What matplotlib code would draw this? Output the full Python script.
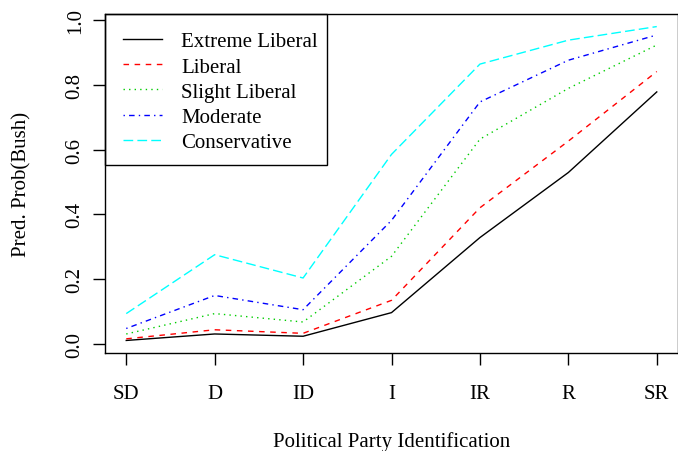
import numpy as np
import matplotlib
matplotlib.use('Agg')
import matplotlib.pyplot as plt
from matplotlib.patches import Rectangle

# predicted probability of a Bush vote by party id, one curve per ideology group
party = ['SD', 'D', 'ID', 'I', 'IR', 'R', 'SR']
extreme_liberal = [0.010, 0.030, 0.023, 0.096, 0.328, 0.529, 0.778]
liberal = [0.015, 0.043, 0.032, 0.134, 0.420, 0.626, 0.841]
slight_liberal = [0.030, 0.093, 0.067, 0.270, 0.632, 0.789, 0.923]
moderate = [0.047, 0.149, 0.105, 0.381, 0.747, 0.876, 0.954]
conservative = [0.093, 0.275, 0.203, 0.585, 0.864, 0.938, 0.980]

groups = ['Extreme Liberal', 'Liberal', 'Slight Liberal', 'Moderate', 'Conservative']
series = [extreme_liberal, liberal, slight_liberal, moderate, conservative]
colors = ['black', 'red', '#00CD00', 'blue', 'cyan']
# R style line types: solid, dashed, dotted, dotdash, longdash
dashes = [None, (4, 4), (1, 3), (1, 3, 4, 3), (7, 3)]

plt.rcParams['font.family'] = ['Liberation Serif', 'DejaVu Serif']
fs = 15

fig = plt.figure(figsize=(6.78, 4.52), dpi=100)
ax = fig.add_axes([0.1549, 0.2168, 0.8451, 0.75])

x = np.arange(1, len(party) + 1)
lw = 1.0
for name, vals, col, d in zip(groups, series, colors, dashes):
    line, = ax.plot(x, vals, color=col, lw=lw, label=name)
    if d is not None:
        line.set_dashes(d)

# R pads the data range by 4% on each side
allv = np.concatenate([np.array(s) for s in series])
lo, hi = allv.min(), allv.max()
pad = 0.04 * (hi - lo)
ax.set_ylim(lo - pad, hi + pad)
ax.set_xlim(1 - 0.04 * 6, 7 + 0.04 * 6)

ax.set_xticks(x)
ax.set_xticklabels(party, fontsize=fs)
ax.set_yticks([0.0, 0.2, 0.4, 0.6, 0.8, 1.0])
ax.set_yticklabels(['0.0', '0.2', '0.4', '0.6', '0.8', '1.0'], fontsize=fs,
                   rotation=90, va='center')
ax.tick_params(direction='out', length=8.6, width=1)
ax.tick_params(axis='x', pad=14)
ax.tick_params(axis='y', pad=6)
for s in ax.spines.values():
    s.set_linewidth(1.0)

ax.set_xlabel('Political Party Identification', fontsize=fs, labelpad=20)
ax.set_ylabel('Pred. Prob(Bush)', fontsize=fs, labelpad=25)

# legend entries without their own frame; the box is drawn separately
leg = ax.legend(loc='upper left', fontsize=fs, frameon=False,
                borderaxespad=0, handlelength=1.9, handletextpad=0.9,
                borderpad=0.85, labelspacing=0.27)
ax.add_patch(Rectangle((0, 0.5546), 0.387, 0.4454, transform=ax.transAxes,
                       fill=False, edgecolor='black', lw=1.0, zorder=5,
                       clip_on=False))

fig.savefig('out.png', dpi=100)
